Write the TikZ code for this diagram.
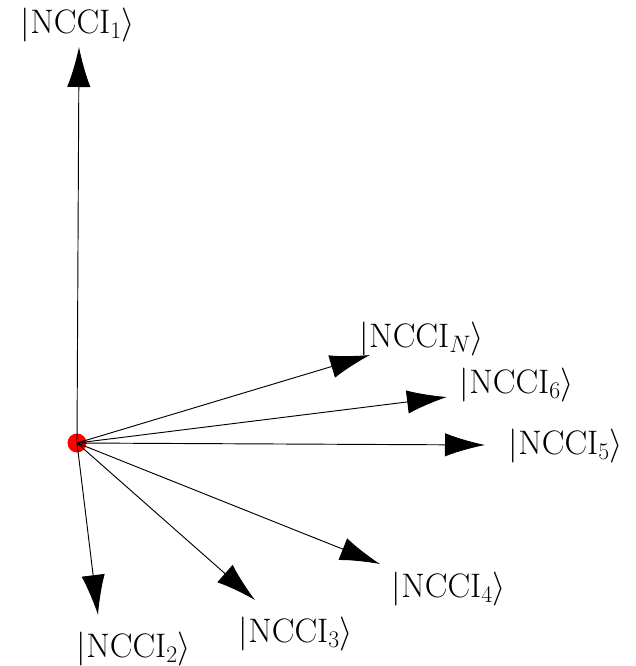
\documentclass[tikz,border=0pt]{standalone}
\usepackage{fix-cm}
\usepackage{tikz}
\usetikzlibrary{arrows.meta,positioning}

\begin{document}
\begin{tikzpicture}[x=0.03cm, y=-0.03cm]
    % Define styles
    \tikzstyle{vec} = [line width=0.8pt, -{Latex[length=1.2cm, width=0.7cm]}]
    \tikzstyle{origin} = [circle, fill=red, draw=none, minimum size=0.57cm, inner sep=0pt]
    \tikzstyle{state} = [inner sep=0pt, font=\fontsize{29}{34}\selectfont]
    \useasboundingbox (0,0) rectangle (635,666);

    % Origin and arrow tips
    \node[origin] (o) at (77,443) {};
    \coordinate (t1) at (79,47);
    \coordinate (t2) at (98,615);
    \coordinate (t3) at (255,600);
    \coordinate (t4) at (380,564);
    \coordinate (t5) at (485,445);
    \coordinate (t6) at (447,397);
    \coordinate (tN) at (370,355);

    % Labels
    \node[state] (s1) at (78,25) {$|\mathrm{NCCI}_1\rangle$};
    \node[state] (s2) at (134,649) {$|\mathrm{NCCI}_2\rangle$};
    \node[state] (s3) at (296,634) {$|\mathrm{NCCI}_3\rangle$};
    \node[state] (s4) at (449,589) {$|\mathrm{NCCI}_4\rangle$};
    \node[state] (s5) at (566,446) {$|\mathrm{NCCI}_5\rangle$};
    \node[state] (s6) at (517,385) {$|\mathrm{NCCI}_6\rangle$};
    \node[state] (sN) at (422,339) {$|\mathrm{NCCI}_N\rangle$};

    % Vectors
    \foreach \t in {t1,t2,t3,t4,t5,t6,tN}
        \draw[vec] (o.center) -- (\t);
\end{tikzpicture}
\end{document}
